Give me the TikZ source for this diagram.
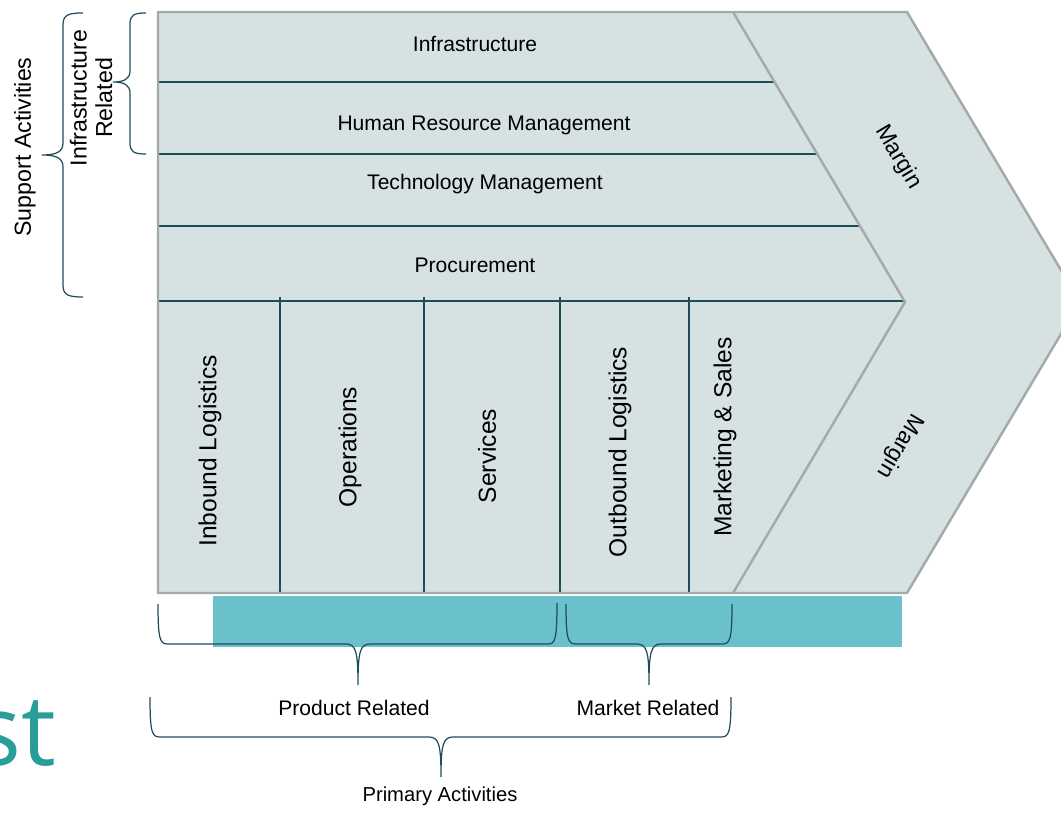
\documentclass[tikz,border=0pt]{standalone}
\usepackage{fontspec}
\setmainfont{Liberation Sans}
\newfontfamily\stfont{Open Sans}
\usepackage{tikz}

\definecolor{chevfill}{HTML}{D6E1E1}
\definecolor{chevedge}{HTML}{A4A9A9}
\definecolor{rulecol}{HTML}{1E4D5A}
\definecolor{bandcol}{HTML}{6AC1CC}
\definecolor{stcol}{HTML}{2A9C9A}

\begin{document}
\begin{tikzpicture}[x=0.02cm,y=-0.02cm]
  \tikzset{actlabel/.style = {inner sep=0pt, font=\fontsize{12}{14}\selectfont}}
  \tikzset{vlabel/.style = {inner sep=0pt, rotate=90, font=\fontsize{14}{16}\selectfont}}
  \tikzset{sidelabel/.style = {inner sep=0pt, rotate=90, align=center, font=\fontsize{13.2}{14.5}\selectfont}}
  \tikzset{marginlabel/.style = {inner sep=0pt, font=\fontsize{13}{15}\selectfont}}
  \tikzset{divider/.style = {draw=rulecol, line width=0.9pt}}
  \tikzset{brace/.style = {draw=rulecol, line width=0.7pt}}
  \tikzset{outline/.style = {draw=chevedge, line width=1.4pt, line join=miter}}

\useasboundingbox (0,0) rectangle (1061,813);
\clip (0,0) rectangle (1061,813);

% chevron and band
\fill[bandcol] (213,596) rectangle (902,647);
\fill[chevfill] (158,12) -- (907,12) -- (1080,302) -- (907,593) -- (158,593) -- cycle;

\begin{scope}
  \clip (158,12) -- (733,12) -- (905,302) -- (733,593) -- (158,593) -- cycle;
  \foreach \y in {82,154,226,301} \draw[divider] (158,\y) -- (1000,\y);
\end{scope}
\foreach \x in {280,424,560,689} \draw[divider] (\x,297) -- (\x,593);

\draw[outline] (158,12) -- (907,12) -- (1080,302) -- (907,593) -- (158,593) -- cycle;
\draw[outline] (733,12) -- (905,302) -- (733,593);

% support activities
\node[actlabel] (infra) at (475,44) {Infrastructure};
\node[actlabel] (hrm)   at (484,125) {Human Resource Management};
\node[actlabel] (tech)  at (485,184) {Technology Management};
\node[actlabel] (proc)  at (475,265) {Procurement};

% primary activities
\node[vlabel] (inbound)  at (210,451) {Inbound Logistics};
\node[vlabel] (ops)      at (350,447) {Operations};
\node[vlabel] (serv)     at (487,456) {Services};
\node[vlabel] (outbound) at (620,452) {Outbound Logistics};
\node[vlabel] (mkt)      at (725,437) {Marketing \& Sales};

\node[marginlabel, rotate=-59.2]  (marginup)   at (898,157) {Margin};
\node[marginlabel, rotate=-120.5] (margindown) at (900,446) {Margin};

% left braces
\node[sidelabel] (support)  at (25,147) {Support Activities};
\node[sidelabel] (infrarel) at (91,98) {Infrastructure\\Related};

\draw[brace] (83,13) .. controls (68,13) and (63,15) .. (63,25) -- (63,143)
  .. controls (63,152) and (56,155) .. (42,155) .. controls (56,155) and (63,158) .. (63,167)
  -- (63,285) .. controls (63,295) and (68,297) .. (83,297);
\draw[brace] (146,13) .. controls (134,13) and (130,15) .. (130,24) -- (130,71)
  .. controls (130,79) and (124,82) .. (113,82) .. controls (124,82) and (130,85) .. (130,93)
  -- (130,143) .. controls (130,152) and (134,154) .. (146,154);

% bottom braces
\draw[brace] (158,604) .. controls (158,640) and (160,644) .. (168,644) -- (346,644)
  .. controls (356,644) and (358,652) .. (358,685) .. controls (358,652) and (360,644) .. (370,644)
  -- (548,644) .. controls (555,644) and (557,640) .. (557,603);
\draw[brace] (566,604) .. controls (566,640) and (568,644) .. (576,644) -- (637,644)
  .. controls (647,644) and (649,652) .. (649,685) .. controls (649,652) and (651,644) .. (661,644)
  -- (722,644) .. controls (730,644) and (732,640) .. (732,604);
\draw[brace] (150,697) .. controls (150,733) and (152,737) .. (160,737) -- (429,737)
  .. controls (439,737) and (441,745) .. (441,777) .. controls (441,745) and (443,737) .. (453,737)
  -- (721,737) .. controls (729,737) and (731,733) .. (731,697);

\node[actlabel] (product) at (354,708) {Product Related};
\node[actlabel] (market)  at (648,708) {Market Related};
\node[actlabel, font=\fontsize{11.5}{13}\selectfont] (primary) at (440,796) {Primary Activities};

\node[anchor=base east, inner sep=0pt, text=stcol, font=\stfont\fontsize{56}{60}\selectfont] (st) at (57,765) {st};

\end{tikzpicture}
\end{document}
